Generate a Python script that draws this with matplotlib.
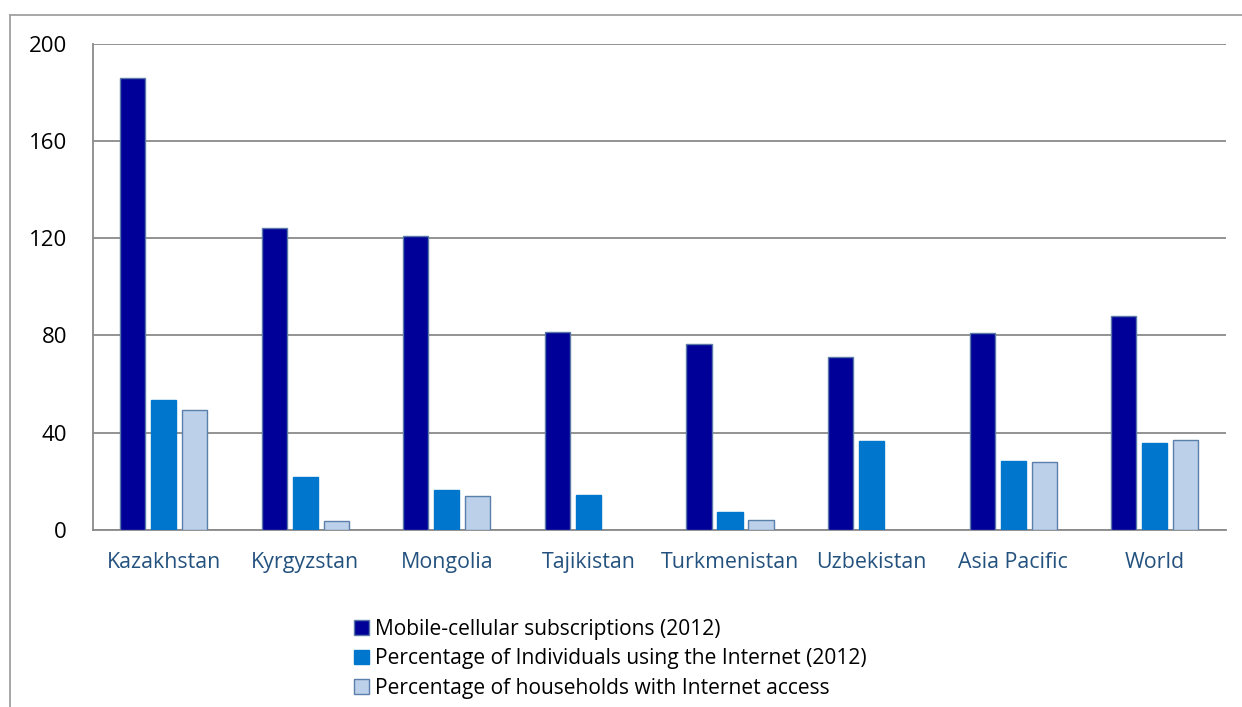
import matplotlib

matplotlib.use("Agg")
import matplotlib.pyplot as plt
from matplotlib.lines import Line2D
from matplotlib.patches import Patch
import numpy as np

plt.rcParams["font.family"] = ["Open Sans", "DejaVu Sans"]

CATEGORIES = ["Kazakhstan", "Kyrgyzstan", "Mongolia", "Tajikistan",
              "Turkmenistan", "Uzbekistan", "Asia Pacific", "World"]
MOBILE = [186, 124, 121, 81.5, 76.5, 71, 81, 88]
INTERNET_USERS = [53.5, 22, 16.5, 14.5, 7.3, 36.7, 28.2, 35.6]
HOUSEHOLDS = [49.5, 3.6, 14, np.nan, 4, np.nan, 28.1, 37]
SERIES_NAMES = [
    "Mobile-cellular subscriptions (2012)",
    "Percentage of Individuals using the Internet (2012)",
    "Percentage of households with Internet access",
]
Y_TICKS = [0, 40, 80, 120, 160, 200]

FACE = ["#000099", "#0077cc", "#bcd0ea"]
EDGE = ["#5b79a6", "#0077cc", "#5a7fab"]
W, H = 1242, 707

fig = plt.figure(figsize=(W / 100, H / 100), dpi=100)
ax = fig.add_axes([92.7 / W, 1 - 530 / H, (1225.7 - 92.7) / W, (530 - 43.7) / H])

x = np.arange(len(CATEGORIES))
width = 0.177
step = 0.219
for i, vals in enumerate([MOBILE, INTERNET_USERS, HOUSEHOLDS]):
    ax.bar(x + (i - 1) * step, vals, width=width, color=FACE[i],
           edgecolor=EDGE[i], linewidth=1.0, zorder=3)

ax.set_xlim(-0.5, len(CATEGORIES) - 0.5)
ax.set_ylim(0, 200)
ax.set_yticks(Y_TICKS)
ax.set_yticklabels([str(v) for v in Y_TICKS], fontsize=16, color="black")
ax.set_xticks(x)
ax.set_xticklabels(CATEGORIES, fontsize=15.4, color="#24527f")
ax.tick_params(axis="both", length=0)
ax.tick_params(axis="y", pad=18.5)
ax.tick_params(axis="x", pad=16)
ax.grid(True, axis="y", color="#8a8a8a", linewidth=1.3, zorder=0)
for side in ("top", "right"):
    ax.spines[side].set_visible(False)
ax.spines["left"].set_color("#8a8a8a")
ax.spines["bottom"].set_color("#8a8a8a")
ax.spines["left"].set_linewidth(1.3)
ax.spines["bottom"].set_linewidth(1.3)

# chart-area border, cut off on right and bottom
fig.add_artist(Line2D([10 / W, 1], [1 - 14.5 / H, 1 - 14.5 / H],
                      transform=fig.transFigure, color="#a0a0a0", linewidth=1.3))
fig.add_artist(Line2D([10 / W, 10 / W], [0, 1 - 14.5 / H],
                      transform=fig.transFigure, color="#a0a0a0", linewidth=1.3))

handles = [Patch(facecolor=FACE[i], edgecolor=EDGE[i], linewidth=1.0) for i in range(3)]
fig.legend(handles, SERIES_NAMES, loc="upper left",
           bbox_to_anchor=(354 / W, 1 - 619 / H), frameon=False, fontsize=15.1,
           handlelength=0.7, handleheight=0.7, handletextpad=0.3,
           labelspacing=0.4, borderaxespad=0, borderpad=0)

fig.savefig("out.png", dpi=100)
